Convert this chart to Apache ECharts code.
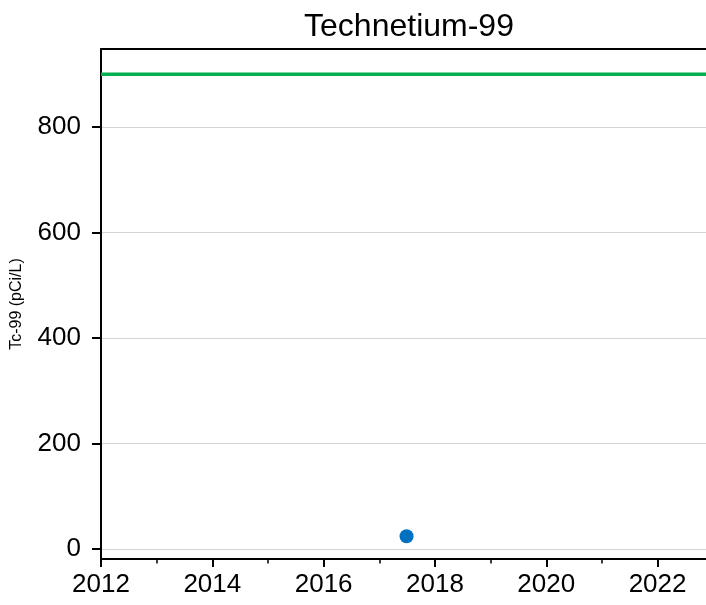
<!DOCTYPE html>
<html>
<head>
<meta charset="utf-8">
<script src="https://cdn.jsdelivr.net/npm/echarts@6/dist/echarts.min.js"></script>
<style>
  html, body { margin: 0; padding: 0; background: #fff; }
  #chart { width: 706px; height: 605px; }
</style>
</head>
<body>
<div id="chart"></div>
<script>
// values
const xMin = 2012
const xMax = 2022.87
const yMin = -19
const yMax = 948
const xTicks = [2012, 2014, 2016, 2018, 2020, 2022]
const xMinorTicks = [2013, 2015, 2017, 2019, 2021]
const yTicks = [0, 200, 400, 600, 800]
const limitLine = [[xMin, 900], [xMax, 900]]   // green line
const samples = [[2017.49, 24]]                 // Tc-99 result

const font = 'Liberation Sans, Arial, sans-serif'

const chart = echarts.init(document.getElementById('chart'))
chart.setOption({
  animation: false,
  title: {
    text: 'Technetium-99',
    left: 404,
    textAlign: 'center',
    top: 6,
    textStyle: { fontFamily: font, fontSize: 32, fontWeight: 'normal', color: '#000' }
  },
  grid: { left: 101, right: 0, top: 49, bottom: 46 },
  xAxis: [
    {
      type: 'value',
      min: xMin,
      max: xMax,
      axisLine: { show: true, onZero: false, lineStyle: { color: '#000', width: 2 } },
      axisTick: { show: true, length: 8, customValues: xTicks, lineStyle: { color: '#000', width: 2 } },
      axisLabel: {
        customValues: xTicks,
        formatter: v => String(v),
        fontFamily: font, fontSize: 26, color: '#000', margin: 13
      },
      splitLine: { show: false }
    },
    {
      // minor yearly ticks
      type: 'value',
      min: xMin,
      max: xMax,
      position: 'bottom',
      axisLine: { show: false, onZero: false },
      axisTick: { show: true, length: 4.5, customValues: xMinorTicks, lineStyle: { color: '#000', width: 1.5 } },
      axisLabel: { show: false },
      splitLine: { show: false }
    },
    {
      // top spine
      type: 'value',
      min: xMin,
      max: xMax,
      position: 'top',
      axisLine: { show: true, onZero: false, lineStyle: { color: '#000', width: 2 } },
      axisTick: { show: false },
      axisLabel: { show: false },
      splitLine: { show: false }
    }
  ],
  yAxis: {
    type: 'value',
    min: yMin,
    max: yMax,
    name: 'Tc-99 (pCi/L)',
    nameLocation: 'middle',
    nameGap: 76,
    nameTextStyle: { fontFamily: font, fontSize: 16, color: '#000' },
    axisLine: { show: true, onZero: false, lineStyle: { color: '#000', width: 2 } },
    axisTick: { show: true, length: 9, customValues: yTicks, lineStyle: { color: '#000', width: 2 } },
    axisLabel: {
      customValues: yTicks,
      fontFamily: font, fontSize: 26, color: '#000', margin: 20
    },
    splitLine: { show: true, lineStyle: { color: '#d3d3d3', width: 1.2 } }
  },
  series: [
    {
      type: 'line',
      data: limitLine,
      symbol: 'none',
      lineStyle: { color: '#00b050', width: 3.5 },
      z: 3
    },
    {
      type: 'scatter',
      data: samples,
      symbolSize: 14,
      itemStyle: { color: '#0070c0', opacity: 1 },
      z: 4
    }
  ]
})
</script>
</body>
</html>
